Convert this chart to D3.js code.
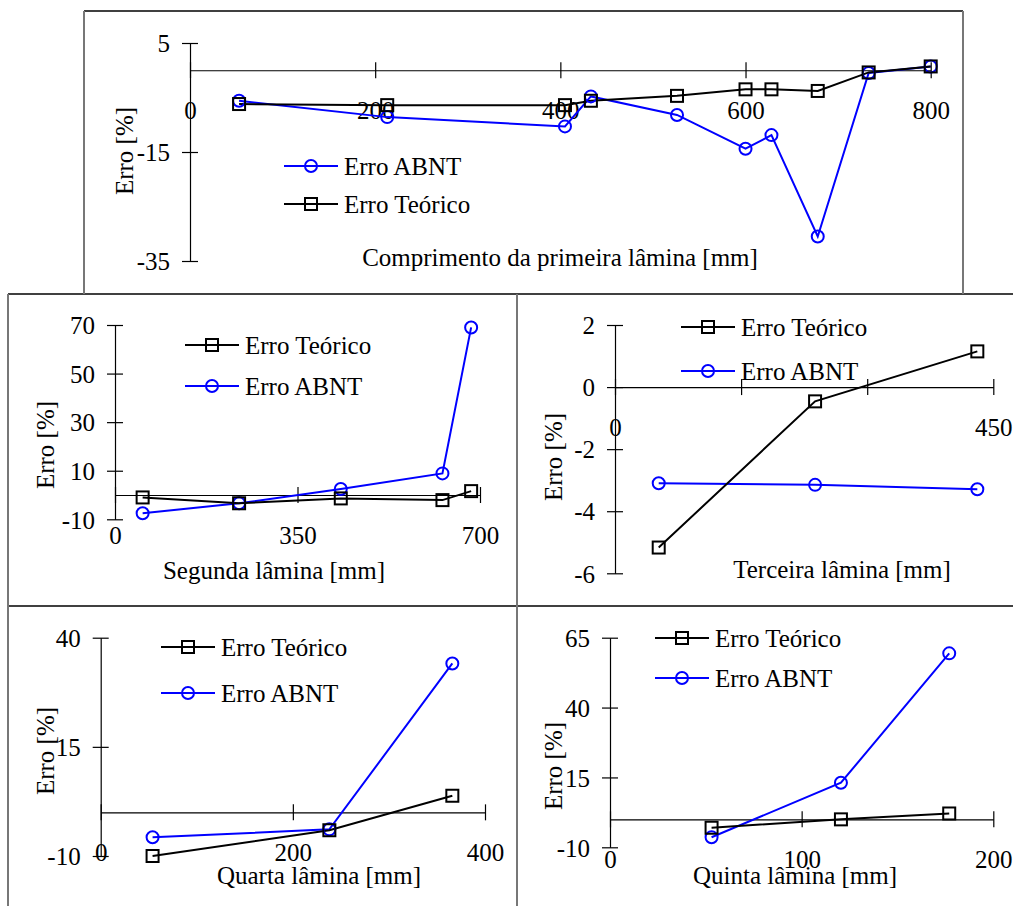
<!DOCTYPE html>
<html>
<head>
<meta charset="utf-8">
<script src="https://cdn.jsdelivr.net/npm/d3@7"></script>
<style>
  body { margin: 0; background: #fff; }
  svg { display: block; font-family: "Liberation Serif", "Times New Roman", serif; }
</style>
</head>
<body>
<svg id="chart"></svg>
<script>
// ---- data ----
const p1X = [53, 213, 405, 433, 526, 600, 628, 678, 733, 800];
const p1Teorico = [-6.2, -6.4, -6.4, -5.6, -4.7, -3.5, -3.5, -3.8, -0.4, 0.7];
const p1Abnt = [-5.6, -8.6, -10.3, -4.8, -8.2, -14.4, -11.9, -30.5, -0.5, 0.7];
const p1XTicks = [0, 200, 400, 600, 800];
const p1YTicks = [-35, -15, 5];

const p2X = [53, 238, 433, 628, 683];
const p2Teorico = [-1.0, -3.4, -1.4, -2.1, 1.6];
const p2Abnt = [-7.5, -3.4, 2.5, 8.9, 69];
const p2XTicks = [0, 350, 700];
const p2YTicks = [-10, 10, 30, 50, 70];

const p3X = [52, 238, 431];
const p3Teorico = [-5.17, -0.46, 1.15];
const p3Abnt = [-3.1, -3.15, -3.29];
const p3XTicks = [0, 150, 300, 450];
const p3XLabels = [0, 450];
const p3YTicks = [-6, -4, -2, 0, 2];

const p4X = [54, 238, 366];
const p4Teorico = [-10, -4.1, 3.8];
const p4Abnt = [-5.7, -3.9, 34.1];
const p4XTicks = [0, 200, 400];
const p4YTicks = [-10, 15, 40];

const p5X = [53, 120.5, 177];
const p5Teorico = [-3.0, 0, 2.1];
const p5Abnt = [-6.4, 13.1, 59.4];
const p5XTicks = [0, 100, 200];
const p5YTicks = [-10, 15, 40, 65];

const nameAbnt = "Erro ABNT";
const nameTeorico = "Erro Teórico";
const yTitle = "Erro [%]";

const width = 1013;
const height = 906;
const svg = d3.select("#chart").attr("width", width).attr("height", height);
const blue = "#0000ff";
const fontSize = 25;

// ---- panel frames ----
const frame = svg.append("g");
const hLines = [[84, 963, 11], [8, 1013, 294], [8, 1013, 606]];
const vLines = [[84, 11, 294], [963, 11, 294], [8, 294, 906], [517, 294, 906]];
hLines.forEach(([a, b, y]) => {
  frame.append("line").attr("x1", a).attr("x2", b).attr("y1", y).attr("y2", y)
    .attr("stroke", "#000").attr("stroke-width", 1.5);
});
vLines.forEach(([x, a, b]) => {
  frame.append("line").attr("x1", x).attr("x2", x).attr("y1", a).attr("y2", b)
    .attr("stroke", "#777").attr("stroke-width", 2);
});

const panels = [
  {
    x: p1X, teo: p1Teorico, abnt: p1Abnt, xTicks: p1XTicks, xLabels: p1XTicks, yTicks: p1YTicks,
    xDomain: [0, 800], xRange: [190, 930.7], yDomain: [-35, 5], yRange: [261, 43],
    legend: { order: ["abnt", "teo"], x1: 284, x2: 338, ys: [166, 204] },
    yTitlePos: [124, 151], xTitle: "Comprimento da primeira lâmina [mm]", xTitlePos: [560, 257]
  },
  {
    x: p2X, teo: p2Teorico, abnt: p2Abnt, xTicks: p2XTicks, xLabels: p2XTicks, yTicks: p2YTicks,
    xDomain: [0, 700], xRange: [115, 480], yDomain: [-10, 70], yRange: [519.3, 325],
    legend: { order: ["teo", "abnt"], x1: 185, x2: 239, ys: [345, 386] },
    yTitlePos: [45, 445], xTitle: "Segunda lâmina [mm]", xTitlePos: [274, 570]
  },
  {
    x: p3X, teo: p3Teorico, abnt: p3Abnt, xTicks: p3XTicks, xLabels: p3XLabels, yTicks: p3YTicks,
    xDomain: [0, 450], xRange: [615, 993.3], yDomain: [-6, 2], yRange: [573.3, 325],
    legend: { order: ["teo", "abnt"], x1: 681, x2: 735, ys: [327, 371] },
    yTitlePos: [553, 457], xTitle: "Terceira lâmina [mm]", xTitlePos: [842, 569]
  },
  {
    x: p4X, teo: p4Teorico, abnt: p4Abnt, xTicks: p4XTicks, xLabels: p4XTicks, yTicks: p4YTicks,
    xDomain: [0, 400], xRange: [100.7, 485], yDomain: [-10, 40], yRange: [856, 637.7],
    legend: { order: ["teo", "abnt"], x1: 161, x2: 215, ys: [647, 693] },
    yTitlePos: [45, 751], xTitle: "Quarta lâmina [mm]", xTitlePos: [319, 875]
  },
  {
    x: p5X, teo: p5Teorico, abnt: p5Abnt, xTicks: p5XTicks, xLabels: p5XTicks, yTicks: p5YTicks,
    xDomain: [0, 200], xRange: [610, 993.3], yDomain: [-10, 65], yRange: [847.3, 637.7],
    legend: { order: ["teo", "abnt"], x1: 655, x2: 709, ys: [638, 678] },
    yTitlePos: [553, 766], xTitle: "Quinta lâmina [mm]", xTitlePos: [795, 875]
  }
];

const drawMarker = (g, kind, cx, cy) => {
  if (kind === "abnt") {
    g.append("circle").attr("cx", cx).attr("cy", cy).attr("r", 6)
      .attr("fill", "none").attr("stroke", blue).attr("stroke-width", 2);
  } else {
    g.append("rect").attr("x", cx - 6).attr("y", cy - 6).attr("width", 12).attr("height", 12)
      .attr("fill", "none").attr("stroke", "#000").attr("stroke-width", 2);
  }
};

const drawPanel = (p) => {
  const g = svg.append("g");
  const xScale = d3.scaleLinear().domain(p.xDomain).range(p.xRange);
  const yScale = d3.scaleLinear().domain(p.yDomain).range(p.yRange);
  const x0 = xScale(0);
  const y0 = yScale(0);

  // y axis with crossing ticks (plain hyphen for negatives, like the original)
  const yAxis = g.append("g")
    .attr("transform", "translate(" + x0 + ",0)")
    .call(d3.axisLeft(yScale).tickValues(p.yTicks).tickSize(8).tickSizeOuter(0)
      .tickFormat((d) => String(d)));
  yAxis.selectAll(".tick line").attr("x1", 8).attr("x2", -8);
  yAxis.selectAll(".tick text").attr("x", -20).attr("dy", "0.35em");

  // x axis with crossing ticks, labels set well below the line
  const xAxis = g.append("g")
    .attr("transform", "translate(0," + y0 + ")")
    .call(d3.axisBottom(xScale).tickValues(p.xTicks).tickSize(8).tickSizeOuter(0)
      .tickFormat((d) => (p.xLabels.includes(d) ? String(d) : "")));
  xAxis.selectAll(".tick line").attr("y1", -8).attr("y2", 8);
  xAxis.selectAll(".tick text").attr("y", 40).attr("dy", "0.35em");

  g.selectAll(".domain").attr("stroke", "#000").attr("stroke-width", 1.2);
  g.selectAll(".tick line").attr("stroke", "#000").attr("stroke-width", 1.2);
  g.selectAll(".tick text")
    .attr("font-family", "Liberation Serif").attr("font-size", fontSize).attr("fill", "#000");

  // series
  const seriesList = [
    { key: "abnt", vals: p.abnt, color: blue },
    { key: "teo", vals: p.teo, color: "#000" }
  ];
  const line = d3.line().x((d) => xScale(d[0])).y((d) => yScale(d[1]));
  seriesList.forEach((s) => {
    const pts = p.x.map((xv, i) => [xv, s.vals[i]]);
    g.append("path").attr("d", line(pts)).attr("fill", "none")
      .attr("stroke", s.color).attr("stroke-width", 2);
  });
  seriesList.forEach((s) => {
    p.x.forEach((xv, i) => drawMarker(g, s.key, xScale(xv), yScale(s.vals[i])));
  });

  // legend
  p.legend.order.forEach((key, i) => {
    const ly = p.legend.ys[i];
    const color = key === "abnt" ? blue : "#000";
    g.append("line").attr("x1", p.legend.x1).attr("x2", p.legend.x2)
      .attr("y1", ly).attr("y2", ly).attr("stroke", color).attr("stroke-width", 2);
    drawMarker(g, key, (p.legend.x1 + p.legend.x2) / 2, ly);
    g.append("text").attr("x", p.legend.x2 + 6).attr("y", ly).attr("dy", "0.35em")
      .attr("font-size", fontSize).text(key === "abnt" ? nameAbnt : nameTeorico);
  });

  // titles
  g.append("text")
    .attr("transform", "translate(" + p.yTitlePos[0] + "," + p.yTitlePos[1] + ") rotate(-90)")
    .attr("text-anchor", "middle").attr("dy", "0.35em")
    .attr("font-size", fontSize).text(yTitle);
  g.append("text")
    .attr("x", p.xTitlePos[0]).attr("y", p.xTitlePos[1])
    .attr("text-anchor", "middle").attr("dy", "0.35em")
    .attr("font-size", fontSize).text(p.xTitle);
};

panels.forEach(drawPanel);
</script>
</body>
</html>
